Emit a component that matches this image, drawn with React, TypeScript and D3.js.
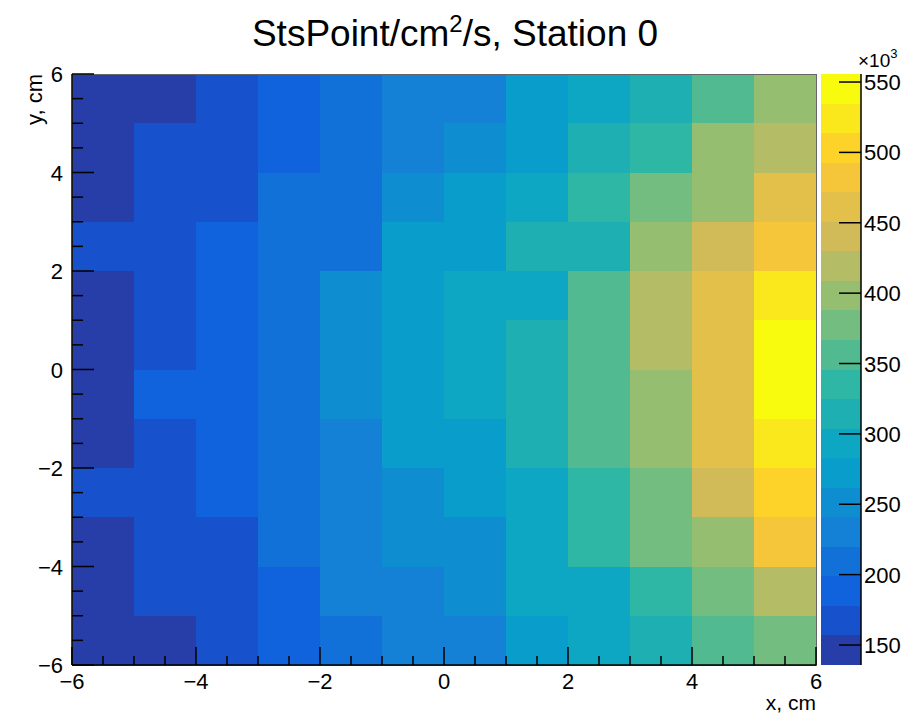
import React from 'react';
import * as d3 from 'd3';

// Bin lower edges (cm)
const xBinLow = [-6, -5, -4, -3, -2, -1, 0, 1, 2, 3, 4, 5];
const yBinLow = [5, 4, 3, 2, 1, 0, -1, -2, -3, -4, -5, -6];

// StsPoint/cm^2/s (x10^3), one array per y row, top to bottom
const rowY5 = [135.8, 141, 164, 186, 205, 226, 233, 270, 290, 318, 352, 401];
const rowY4 = [144, 170, 163, 190, 211, 229, 254, 275, 311, 332, 396, 421];
const rowY3 = [149, 166, 171, 208, 212, 249, 270, 296, 338, 374, 401, 459];
const rowY2 = [168, 163, 185, 206, 213, 275, 269, 312, 318, 395, 442, 484];
const rowY1 = [145, 165, 189, 211, 252, 268, 290, 296, 353, 420, 463, 526];
const rowY0 = [140, 169, 186, 207, 248, 274, 294, 315, 358, 417, 458, 555.7];
const rowYm1 = [147, 187, 191, 212, 250, 271, 291, 313, 354, 400, 462, 549];
const rowYm2 = [143, 168, 186, 209, 231, 270, 275, 316, 359, 396, 460, 521];
const rowYm3 = [165, 170, 190, 205, 229, 253, 273, 290, 336, 379, 439, 502];
const rowYm4 = [146, 166, 169, 210, 232, 250, 254, 292, 333, 376, 397, 480];
const rowYm5 = [148, 164, 168, 187, 228, 231, 249, 295, 290, 337, 375, 418];
const rowYm6 = [141, 149, 162, 189, 208, 230, 232, 273, 296, 311, 355, 380];

const rows = [rowY5, rowY4, rowY3, rowY2, rowY1, rowY0, rowYm1, rowYm2, rowYm3, rowYm4, rowYm5, rowYm6];

const xTicks = [-6, -4, -2, 0, 2, 4, 6];
const yTicks = [-6, -4, -2, 0, 2, 4, 6];
const zTicks = [150, 200, 250, 300, 350, 400, 450, 500, 550];

// ROOT kBird palette
const birdStops = [0.0, 0.125, 0.25, 0.375, 0.5, 0.625, 0.75, 0.875, 1.0];
const birdR = [0.2082, 0.0592, 0.078, 0.0232, 0.1802, 0.5301, 0.8186, 0.9956, 0.9764];
const birdG = [0.1664, 0.3599, 0.5041, 0.6419, 0.7178, 0.7492, 0.7328, 0.7862, 0.9832];
const birdB = [0.5293, 0.8684, 0.8385, 0.7914, 0.6425, 0.4662, 0.3499, 0.1968, 0.0539];

const NCOL = 255;
const NCONT = 20;

const rS = d3.scaleLinear().domain(birdStops).range(birdR);
const gS = d3.scaleLinear().domain(birdStops).range(birdG);
const bS = d3.scaleLinear().domain(birdStops).range(birdB);
const palette = d3.range(NCOL).map((i) => {
  const p = i / (NCOL - 1);
  return d3.rgb(rS(p) * 255, gS(p) * 255, bS(p) * 255).formatHex();
});
const levelColor = (k: number) => {
  let idx = Math.floor((k + 0.99) * NCOL / NCONT);
  if (idx > NCOL - 1) idx = NCOL - 1;
  return palette[idx];
};

const FONT = "'Liberation Sans', Arial, Helvetica, sans-serif";

export default function App() {
  const W = 911, H = 716;
  const L = 72, R = 816, T = 74, B = 665;
  const barL = 821, barR = 861;
  const FS = 22;

  const x = d3.scaleLinear().domain([-6, 6]).range([L, R]);
  const y = d3.scaleLinear().domain([-6, 6]).range([B, T]);

  const all = rows.flat();
  const zmin = d3.min(all) as number;
  const zmax = d3.max(all) as number;
  const z = d3.scaleLinear().domain([zmin, zmax]).range([B, T]);
  const dz = (zmax - zmin) / NCONT;
  const levelOf = (v: number) => Math.min(NCONT - 1, Math.floor(0.01 + (v - zmin) / dz));

  const cells: JSX.Element[] = [];
  rows.forEach((row, ri) => {
    const y0 = yBinLow[ri];
    row.forEach((v, ci) => {
      const x0 = xBinLow[ci];
      const px0 = Math.round(x(x0));
      const px1 = Math.round(x(x0 + 1));
      const py0 = Math.round(y(y0 + 1));
      const py1 = Math.round(y(y0));
      cells.push(
        <rect key={`c${ri}-${ci}`} x={px0} y={py0} width={px1 - px0} height={py1 - py0}
          fill={levelColor(levelOf(v))} />
      );
    });
  });

  const bands = d3.range(NCONT).map((k) => {
    const a = Math.round(z(zmin + dz * (k + 1)));
    const b = Math.round(z(zmin + dz * k));
    return <rect key={`b${k}`} x={barL} y={a} width={barR - barL} height={b - a} fill={levelColor(k)} />;
  });

  const xMinor = d3.range(-6, 6.01, 0.5);
  const yMinor = d3.range(-6, 6.01, 0.5);
  const fmt = (v: number) => (v < 0 ? '\u2212' + Math.abs(v) : String(v));

  return (
    <svg width={W} height={H} style={{ position: 'absolute', left: 0, top: 0, background: '#fff' }}
      fontFamily={FONT}>
      <rect x={0} y={0} width={W} height={H} fill="#fff" />
      <g shapeRendering="crispEdges">{cells}</g>
      <rect x={L} y={T} width={R - L} height={B - T} fill="none" stroke="#666" strokeWidth={1} shapeRendering="crispEdges" />
      {/* axes lines */}
      <line x1={L} x2={R} y1={B} y2={B} stroke="#000" strokeWidth={1.5} />
      <line x1={L} x2={L} y1={T} y2={B} stroke="#000" strokeWidth={1.5} />
      {/* x ticks */}
      {xMinor.map((v) => {
        const major = Math.abs(v % 2) < 1e-9;
        return <line key={`xt${v}`} x1={x(v)} x2={x(v)} y1={B} y2={B - (major ? 18 : 9)} stroke="#000" strokeWidth={1.5} />;
      })}
      {yMinor.map((v) => {
        const major = Math.abs(v % 2) < 1e-9;
        return <line key={`yt${v}`} x1={L} x2={L + (major ? 22 : 11)} y1={y(v)} y2={y(v)} stroke="#000" strokeWidth={1.5} />;
      })}
      {xTicks.map((v) => (
        <text key={`xl${v}`} x={x(v)} y={B + 24} textAnchor="middle" fontSize={FS} fill="#000">{fmt(v)}</text>
      ))}
      {yTicks.map((v) => (
        <text key={`yl${v}`} x={L - 9} y={y(v) + 8} textAnchor="end" fontSize={FS} fill="#000">{fmt(v)}</text>
      ))}
      <text x={R} y={B + 45} textAnchor="end" fontSize={21} fill="#000">x, cm</text>
      <text transform={`translate(${42},${T}) rotate(-90)`} textAnchor="end" fontSize={FS} fill="#000">y, cm</text>
      {/* palette */}
      <g shapeRendering="crispEdges">{bands}</g>
      <line x1={barR} x2={barR} y1={T} y2={B} stroke="#000" strokeWidth={1.5} />
      {zTicks.map((v) => (
        <g key={`zt${v}`}>
          <line x1={barR - 22} x2={barR} y1={z(v)} y2={z(v)} stroke="#000" strokeWidth={1.5} />
          <text x={barR + 3} y={z(v) + 8} fontSize={FS} fill="#000">{v}</text>
        </g>
      ))}
      <text x={858} y={67} fontSize={19} fill="#000">{'\u00d710'}<tspan dy={-9} fontSize={13}>3</tspan></text>
      {/* title */}
      <text x={455} y={46} textAnchor="middle" fontSize={37} fill="#000">
        StsPoint/cm<tspan dy={-14} fontSize={24}>2</tspan><tspan dy={14}>/s, Station 0</tspan>
      </text>
    </svg>
  );
}
